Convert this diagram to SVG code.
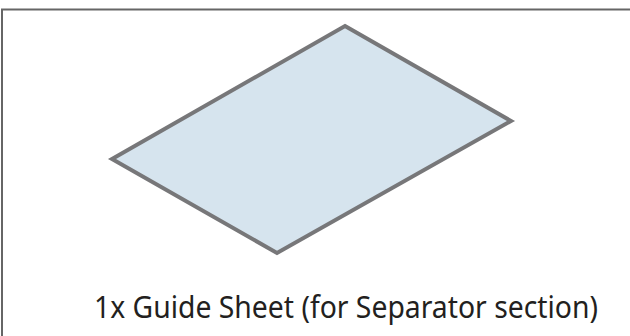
<svg xmlns="http://www.w3.org/2000/svg" width="630" height="336" viewBox="0 0 630 336">
<style>
.frame{fill:none;stroke:#666;stroke-width:2}
.sheet{fill:#d6e4ee;stroke:#777779;stroke-width:4;stroke-linejoin:miter}
.lbl{font-family:"Noto Sans","Open Sans",sans-serif;font-size:30px;fill:#231f20}
</style>
<rect width="630" height="336" fill="#fff"/>
<path class="frame" d="M2,337 V9.5 H631"/>
<g id="sheet">
<polygon class="sheet" points="345,26 511,121 277,253 112,159"/>
</g>
<g id="label">
<text class="lbl" x="94" y="318" textLength="504" lengthAdjust="spacingAndGlyphs">1x Guide Sheet (for Separator section)</text>
</g>
</svg>
